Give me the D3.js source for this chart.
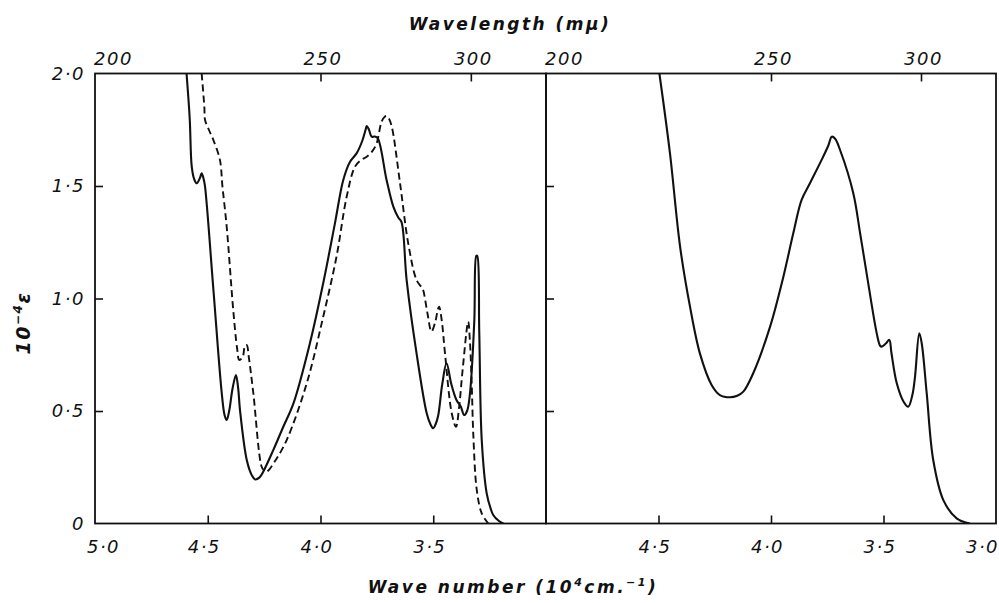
<!DOCTYPE html>
<html><head><meta charset="utf-8">
<script src="https://cdn.jsdelivr.net/npm/d3@7"></script>
<style>
body{margin:0;background:#fff}
text{font-family:"DejaVu Sans",sans-serif;font-style:italic;fill:#111}
</style>
</head><body>
<svg id="chart" width="999" height="603"></svg>
<script>
// ---- data ----
const yTickValues = [0, 0.5, 1.0, 1.5, 2.0];
const leftWaveTicks = [5.0, 4.5, 4.0, 3.5];
const rightWaveTicks = [4.5, 4.0, 3.5, 3.0];
const wavelengthTicks = [200, 250, 300];

const leftSolidWave = [4.594,4.580,4.571,4.560,4.549,4.535,4.527,4.518,4.512,4.475,4.438,4.425,4.416,4.405,4.390,4.375,4.365,4.357,4.327,4.305,4.290,4.270,4.254,4.209,4.165,4.120,4.047,3.988,3.936,3.899,3.869,3.840,3.815,3.800,3.795,3.785,3.773,3.760,3.746,3.707,3.677,3.655,3.641,3.618,3.574,3.529,3.512,3.500,3.490,3.478,3.460,3.441,3.420,3.397,3.378,3.363,3.350,3.337,3.318,3.309,3.305,3.296,3.285,3.263,3.245,3.234,3.210,3.189];
const leftSolidEps  = [2.0,1.80,1.586,1.53,1.512,1.535,1.556,1.53,1.497,1.04,0.580,0.48,0.460,0.50,0.60,0.66,0.60,0.504,0.282,0.215,0.196,0.205,0.230,0.327,0.43,0.534,0.801,1.068,1.334,1.527,1.608,1.645,1.70,1.75,1.767,1.75,1.719,1.72,1.712,1.527,1.408,1.36,1.341,1.082,0.756,0.49,0.44,0.423,0.44,0.48,0.62,0.712,0.62,0.549,0.52,0.482,0.50,0.579,0.90,1.19,1.19,0.85,0.371,0.134,0.065,0.038,0.012,0.0];

const leftDashWave = [4.527,4.515,4.512,4.495,4.475,4.446,4.435,4.416,4.387,4.370,4.360,4.345,4.335,4.327,4.318,4.298,4.261,4.250,4.239,4.200,4.150,4.061,3.988,3.929,3.884,3.847,3.820,3.795,3.770,3.751,3.729,3.715,3.707,3.697,3.684,3.647,3.611,3.574,3.552,3.545,3.525,3.508,3.490,3.480,3.474,3.462,3.448,3.418,3.399,3.385,3.370,3.345,3.338,3.330,3.322,3.307,3.285,3.256];
const leftDashEps  = [2.0,1.85,1.793,1.75,1.704,1.616,1.50,1.319,0.949,0.78,0.727,0.74,0.79,0.793,0.74,0.58,0.252,0.235,0.230,0.28,0.371,0.623,0.919,1.186,1.452,1.586,1.615,1.630,1.655,1.690,1.786,1.808,1.811,1.80,1.764,1.51,1.245,1.082,1.05,1.038,0.93,0.853,0.90,0.95,0.964,0.90,0.757,0.49,0.430,0.52,0.68,0.897,0.82,0.638,0.386,0.149,0.045,0.0];

const rightWave = [4.496,4.449,4.404,4.360,4.316,4.264,4.227,4.182,4.150,4.123,4.079,4.004,3.945,3.901,3.864,3.827,3.775,3.745,3.730,3.715,3.693,3.634,3.604,3.575,3.530,3.515,3.508,3.490,3.474,3.465,3.441,3.410,3.390,3.372,3.360,3.341,3.330,3.308,3.279,3.234,3.175,3.116];
const rightEps  = [2.0,1.645,1.230,0.964,0.756,0.616,0.571,0.561,0.568,0.586,0.668,0.875,1.097,1.290,1.438,1.512,1.616,1.68,1.719,1.71,1.660,1.467,1.290,1.112,0.845,0.79,0.786,0.80,0.816,0.76,0.623,0.54,0.519,0.57,0.652,0.845,0.80,0.579,0.282,0.104,0.023,0.0];

// ---- layout ----
const svg = d3.select("#chart");
const yTop = 73.5, yBot = 523.5;
const y = d3.scaleLinear().domain([0, 2]).range([yBot, yTop]);
const xL = d3.scaleLinear().domain([5, 3]).range([95, 546]);
const xR = d3.scaleLinear().domain([5, 3]).range([546, 996]);
const fmt = v => (v === 0 ? "0" : d3.format(".1f")(v).replace(".", "\u00B7"));
const ink = "#111";

const defs = svg.append("defs");
defs.append("clipPath").attr("id","clipL").append("rect").attr("x",95).attr("y",yTop).attr("width",451).attr("height",yBot-yTop);
defs.append("clipPath").attr("id","clipR").append("rect").attr("x",546).attr("y",yTop).attr("width",450).attr("height",yBot-yTop);

function panel(x, waveTicks, showYLabels) {
  const [x0, x1] = x.range();
  const g = svg.append("g");
  g.append("rect").attr("x", x0).attr("y", yTop).attr("width", x1 - x0).attr("height", yBot - yTop)
    .attr("fill", "none").attr("stroke", ink).attr("stroke-width", 1.8);
  const bAxis = d3.axisBottom(x).tickValues(waveTicks).tickSize(-8).tickPadding(13).tickFormat(fmt);
  const bg = g.append("g").attr("transform", `translate(0,${yBot})`).call(bAxis);
  bg.select(".domain").remove();
  bg.selectAll("line").attr("stroke", ink).attr("stroke-width", 1.6)
    .filter(d => d === 5 || d === 3).remove();
  bg.selectAll("text").attr("font-size", 18).attr("letter-spacing", 1.5).attr("font-weight", 500)
    .attr("dx", d => d === 5 ? 8 : d === 3 ? -14 : -4).attr("dy", "0.9em").attr("fill", ink);
  const tAxis = d3.axisTop(x).tickValues(wavelengthTicks.map(l => 1000 / l)).tickSize(-8).tickPadding(9)
    .tickFormat((d, i) => String(wavelengthTicks[i]));
  const tg = g.append("g").attr("transform", `translate(0,${yTop})`).call(tAxis);
  tg.select(".domain").remove();
  tg.selectAll("line").attr("stroke", ink).attr("stroke-width", 1.6).filter(d => d === 5).remove();
  tg.selectAll("text").attr("font-size", 18).attr("letter-spacing", 1.5).attr("fill", ink)
    .attr("dx", d => d === 5 ? 18 : 2);
  const lAxis = d3.axisLeft(y).tickValues(yTickValues).tickSize(-8).tickPadding(10)
    .tickFormat(showYLabels ? fmt : () => "");
  const lg = g.append("g").attr("transform", `translate(${x0},0)`).call(lAxis);
  lg.select(".domain").remove();
  lg.selectAll("line").attr("stroke", ink).attr("stroke-width", 1.6).filter(d => d === 0 || d === 2).remove();
  lg.selectAll("text").attr("font-size", 18).attr("letter-spacing", 1.5).attr("fill", ink);
  return g;
}

panel(xL, leftWaveTicks, true);
panel(xR, rightWaveTicks, false);

function drawCurve(x, waves, eps, clipId, dashed) {
  const pts = waves.map((w, i) => [x(w), y(eps[i])]);
  const line = d3.line().curve(d3.curveCatmullRom.alpha(0.5));
  svg.append("path").attr("d", line(pts)).attr("fill", "none").attr("stroke", ink)
    .attr("stroke-width", dashed ? 1.9 : 2.1).attr("stroke-linejoin", "round")
    .attr("stroke-dasharray", dashed ? "7,4" : null)
    .attr("clip-path", `url(#${clipId})`);
}
drawCurve(xL, leftSolidWave, leftSolidEps, "clipL", false);
drawCurve(xL, leftDashWave, leftDashEps, "clipL", true);
drawCurve(xR, rightWave, rightEps, "clipR", false);

svg.append("text").attr("x", 510).attr("y", 30).attr("text-anchor", "middle")
  .attr("font-size", 17).attr("font-weight", "bold").attr("letter-spacing", 2.5)
  .text("Wavelength (m\u03BC)");

const xt = svg.append("text").attr("x", 513).attr("y", 593).attr("text-anchor", "middle")
  .attr("font-size", 17).attr("font-weight", "bold").attr("letter-spacing", 2.5);
xt.append("tspan").text("Wave number (10");
xt.append("tspan").attr("dy", -7).attr("font-size", 11).text("4");
xt.append("tspan").attr("dy", 7).text("cm.");
xt.append("tspan").attr("dy", -7).attr("font-size", 11).text("\u22121");
xt.append("tspan").attr("dy", 7).text(")");

const yt = svg.append("text").attr("transform", "translate(30,323) rotate(-90)").attr("text-anchor", "middle")
  .attr("font-size", 19).attr("font-weight", "bold").attr("letter-spacing", 1.5);
yt.append("tspan").text("10");
yt.append("tspan").attr("dy", -8).attr("font-size", 12).text("\u22124");
yt.append("tspan").attr("dy", 8).text("\u03B5");
</script>
</body></html>
